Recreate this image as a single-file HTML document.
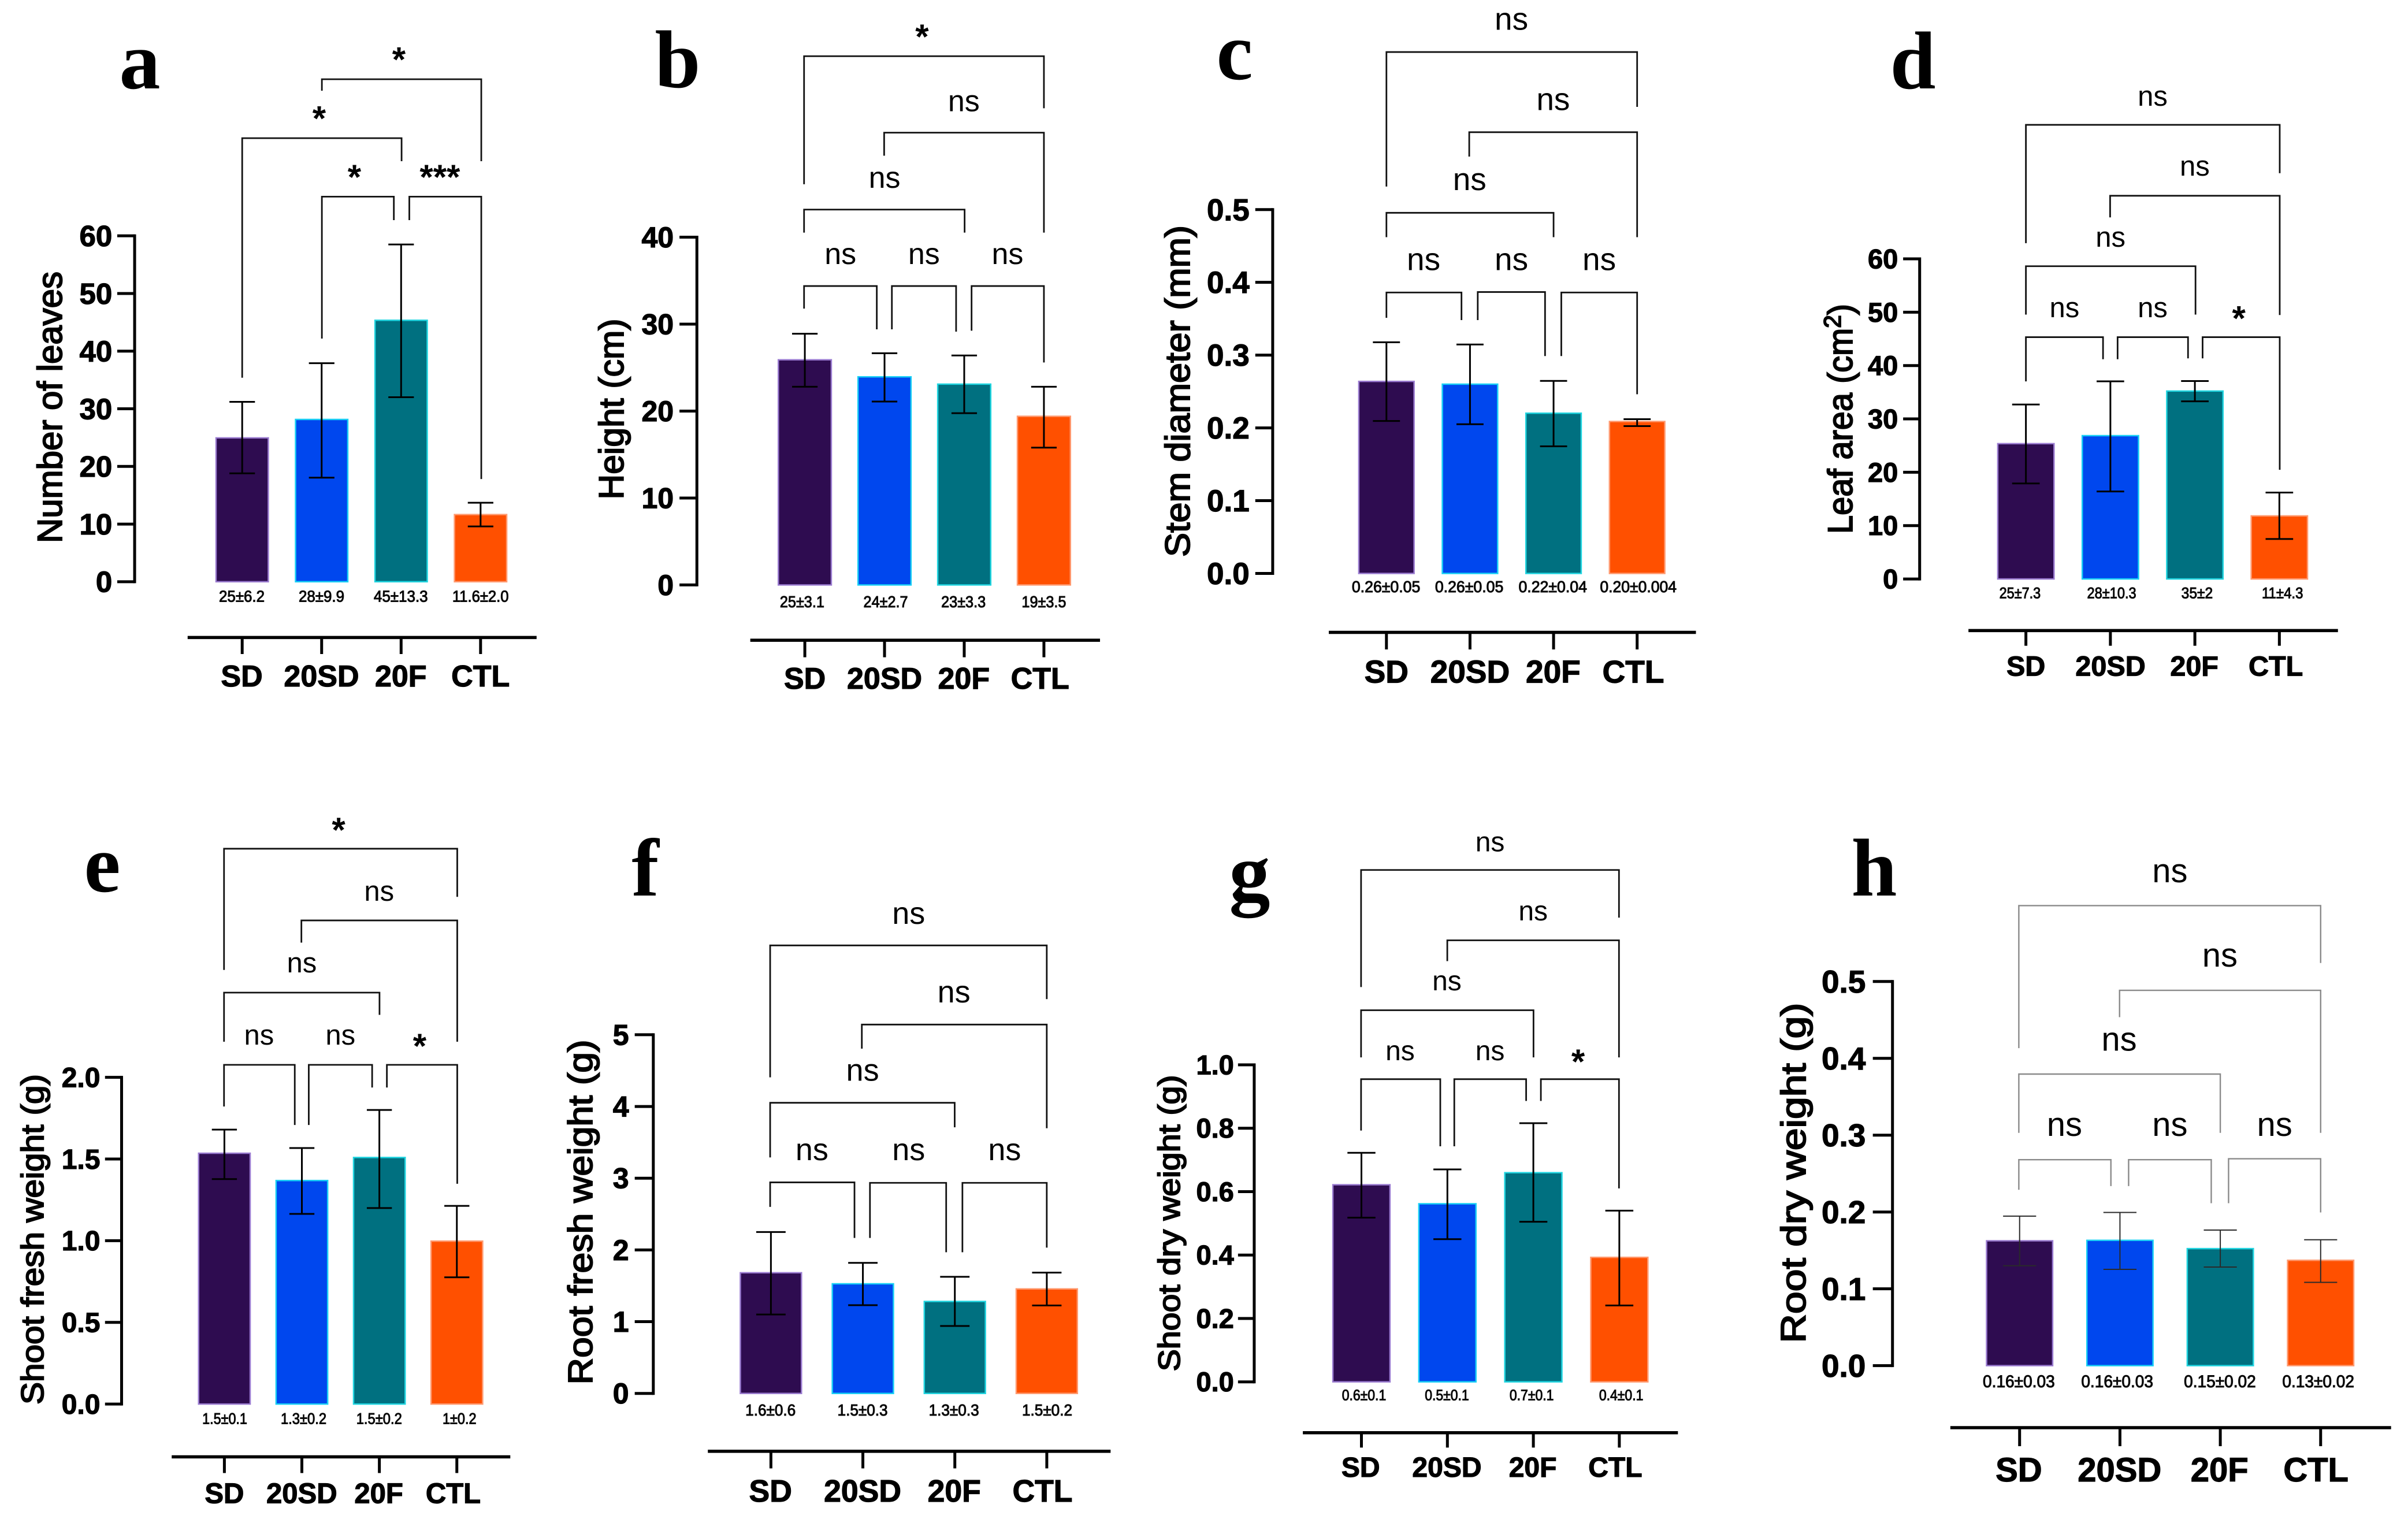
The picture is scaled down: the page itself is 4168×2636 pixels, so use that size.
<!DOCTYPE html>
<html lang="en">
<head>
<meta charset="utf-8">
<title>Plant growth measurements by treatment</title>
<style>
html,body{margin:0;padding:0;background:#fff;}
svg{display:block;}
text{font-family:"Liberation Sans",sans-serif;fill:#000;}
.letter{font-family:"Liberation Serif",serif;font-weight:700;font-size:142px;text-anchor:middle;}
.ytitle{font-size:60px;text-anchor:middle;stroke:#000;stroke-width:2px;}
</style>
</head>
<body>
<svg id="figure" xmlns="http://www.w3.org/2000/svg" width="4168" height="2636" viewBox="0 0 4168 2636">
  <rect x="0" y="0" width="4168" height="2636" fill="#ffffff"/>

  <g id="panel-a">
    <text class="letter" x="242" y="153">a</text>
    <text class="ytitle" transform="translate(107 705) rotate(-90)" textLength="470" lengthAdjust="spacingAndGlyphs">Number of leaves</text>
  </g>
  <g id="panel-b">
    <text class="letter" x="1173" y="151">b</text>
    <text class="ytitle" transform="translate(1079 708) rotate(-90)" textLength="313" lengthAdjust="spacingAndGlyphs">Height (cm)</text>
  </g>
  <g id="panel-c">
    <text class="letter" x="2137" y="137">c</text>
    <text class="ytitle" transform="translate(2059 677) rotate(-90)" textLength="574" lengthAdjust="spacingAndGlyphs">Stem diameter (mm)</text>
  </g>
  <g id="panel-d">
    <text class="letter" x="3311" y="153">d</text>
    <text class="ytitle" transform="translate(3206 725) rotate(-90)" textLength="398" lengthAdjust="spacingAndGlyphs">Leaf area  (cm<tspan font-size="42" dy="-20">2</tspan><tspan dy="20">)</tspan></text>
  </g>
  <g id="panel-e">
    <text class="letter" x="177" y="1543">e</text>
    <text class="ytitle" style="font-size:55px" transform="translate(75 2145) rotate(-90)" textLength="572" lengthAdjust="spacingAndGlyphs">Shoot fresh weight (g)</text>
  </g>
  <g id="panel-f">
    <text class="letter" x="1117" y="1550">f</text>
    <text class="ytitle" style="font-size:59px" transform="translate(1025 2098) rotate(-90)" textLength="597" lengthAdjust="spacingAndGlyphs">Root fresh weight (g)</text>
  </g>
  <g id="panel-g">
    <text class="letter" x="2163" y="1558">g</text>
    <text class="ytitle" style="font-size:53px" transform="translate(2042 2117) rotate(-90)" textLength="513" lengthAdjust="spacingAndGlyphs">Shoot dry weight (g)</text>
  </g>
  <g id="panel-h">
    <text class="letter" x="3244" y="1550">h</text>
    <text class="ytitle" transform="translate(3125 2030) rotate(-90)" textLength="589" lengthAdjust="spacingAndGlyphs">Root dry weight (g)</text>
  </g>
</svg>

<script>
/* ---------- shared categories ---------- */
const categories = ['SD', '20SD', '20F', 'CTL'];

/* ---------- chart data: bar height, error-bar low and high ---------- */
const leavesMean = [24.8, 28, 45.2, 11.5];
const leavesLow = [18.8, 18.05, 32, 9.6];
const leavesHigh = [31.2, 37.9, 58.5, 13.7];
const leavesTicks = ['0', '10', '20', '30', '40', '50', '60'];
const leavesPrinted = ['25±6.2', '28±9.9', '45±13.3', '11.6±2.0'];

const heightMean = [25.8, 23.84, 23, 19.3];
const heightLow = [22.8, 21.1, 19.76, 15.8];
const heightHigh = [28.9, 26.65, 26.4, 22.8];
const heightTicks = ['0', '10', '20', '30', '40'];
const heightPrinted = ['25±3.1', '24±2.7', '23±3.3', '19±3.5'];

const stemMean = [0.2627, 0.2589, 0.219, 0.2076];
const stemLow = [0.2095, 0.205, 0.1747, 0.2025];
const stemHigh = [0.3177, 0.3146, 0.2646, 0.212];
const stemTicks = ['0.0', '0.1', '0.2', '0.3', '0.4', '0.5'];
const stemPrinted = ['0.26±0.05', '0.26±0.05', '0.22±0.04', '0.20±0.004'];

const leafAreaMean = [25.2, 26.7, 35.06, 11.66];
const leafAreaLow = [17.9, 16.4, 33.3, 7.5];
const leafAreaHigh = [32.7, 37.05, 37.1, 16.2];
const leafAreaTicks = ['0', '10', '20', '30', '40', '50', '60'];
const leafAreaPrinted = ['25±7.3', '28±10.3', '35±2', '11±4.3'];

const shootFreshMean = [1.53, 1.363, 1.504, 0.992];
const shootFreshLow = [1.377, 1.164, 1.2, 0.776];
const shootFreshHigh = [1.68, 1.567, 1.8, 1.213];
const shootFreshTicks = ['0.0', '0.5', '1.0', '1.5', '2.0'];
const shootFreshPrinted = ['1.5±0.1', '1.3±0.2', '1.5±0.2', '1±0.2'];

const rootFreshMean = [1.67, 1.516, 1.27, 1.445];
const rootFreshLow = [1.1, 1.23, 0.94, 1.226];
const rootFreshHigh = [2.25, 1.82, 1.626, 1.684];
const rootFreshTicks = ['0', '1', '2', '3', '4', '5'];
const rootFreshPrinted = ['1.6±0.6', '1.5±0.3', '1.3±0.3', '1.5±0.2'];

const shootDryMean = [0.619, 0.559, 0.657, 0.39];
const shootDryLow = [0.518, 0.45, 0.505, 0.241];
const shootDryHigh = [0.7226, 0.67, 0.816, 0.54];
const shootDryTicks = ['0.0', '0.2', '0.4', '0.6', '0.8', '1.0'];
const shootDryPrinted = ['0.6±0.1', '0.5±0.1', '0.7±0.1', '0.4±0.1'];

const rootDryMean = [0.1614, 0.162, 0.1512, 0.136];
const rootDryLow = [0.13, 0.1253, 0.1283, 0.1084];
const rootDryHigh = [0.1946, 0.1994, 0.1765, 0.1639];
const rootDryTicks = ['0.0', '0.1', '0.2', '0.3', '0.4', '0.5'];
const rootDryPrinted = ['0.16±0.03', '0.16±0.03', '0.15±0.02', '0.13±0.02'];

/* ---------- styling shared by all bars ---------- */
const fills = ['#2e0c50', '#0047ee', '#007080', '#ff5000'];
const edges = ['#9a7bd0', '#19d0f5', '#20d5e0', '#ff9a70'];

/* ---------- panel layout (frame units mapped to page pixels by frame) ---------- */
const layouts = [
  {id:'panel-a', frame:[0,0,1050,1250], mean:leavesMean, low:leavesLow, high:leavesHigh, ticks:leavesTicks, printed:leavesPrinted,
   axisX:348, y0:1263, yTop:512, tickFrom:303, tickRight:290, tickFont:51,
   x0:626, step:205.4, barW:135, cap:33,
   baseY:1384, baseL:485, baseR:1387, baseTick:1420, catY:1490, catX:[625,831,1036,1242], catFont:52,
   valY:1294, valX:[625,831,1036,1242], valW:[118,118,140,146], valFont:28, nsFont:52,
   brackets:[[832,197,172,1244,350],[626,820,300,1038,350],[832,735,427,1018,478],[1058,478,427,1244,1040]],
   notes:[['*',1031,122],['*',825,250],['*',916,377],['***',1137,377]]},
  {id:'panel-b', frame:[1000,0,1050,1250], mean:heightMean, low:heightLow, high:heightHigh, ticks:heightTicks, printed:heightPrinted,
   axisX:308, y0:1270, yTop:515, tickFrom:263, tickRight:248, tickFont:50,
   x0:587, step:206, barW:137, cap:33,
   baseY:1390, baseL:446, baseR:1350, baseTick:1427, catY:1495, catX:[587,793,998,1195], catFont:52,
   valY:1306, valX:[580,796,997,1205], valW:[115,115,115,115], valFont:28, nsFont:52,
   brackets:[[585,400,122,1205,235],[792,338,288,1205,505],[585,505,455,1000,505],[585,670,621,773,715],[812,715,621,978,720],[1018,718,621,1205,787]],
   notes:[['*',890,72],['ns',998,222],['ns',793,388],['ns',679,554],['ns',895,554],['ns',1111,554]]},
  {id:'panel-c', frame:[2000,0,1050,1250], mean:stemMean, low:stemLow, high:stemHigh, ticks:stemTicks, printed:stemPrinted,
   axisX:303, y0:1245, yTop:455, tickFrom:258, tickRight:243, tickFont:53,
   x0:597, step:216, barW:143, cap:35,
   baseY:1373, baseL:448, baseR:1397, baseTick:1410, catY:1482, catX:[597,813,1028,1235], catFont:55,
   valY:1273, valX:[596,811,1027,1248], valW:[177,177,177,198], valFont:28, nsFont:55,
   brackets:[[597,405,113,1245,232],[811,340,287,1245,515],[597,515,462,1029,515],[597,690,635,791,695],[833,695,634,1007,773],[1049,773,635,1245,856]],
   notes:[['ns',920,44],['ns',1028,218],['ns',812,392],['ns',693,566],['ns',920,566],['ns',1147,566]]},
  {id:'panel-d', frame:[3100,0,1068,1250], mean:leafAreaMean, low:leafAreaLow, high:leafAreaHigh, ticks:leafAreaTicks, printed:leafAreaPrinted,
   axisX:327, y0:1257, yTop:562, tickFrom:285, tickRight:272, tickFont:47,
   x0:597, step:214.7, barW:143, cap:35,
   baseY:1369, baseL:451, baseR:1390, baseTick:1402, catY:1467, catX:[597,812,1025,1232], catFont:48.5,
   valY:1287, valX:[582,815,1032,1249], valW:[105,125,80,105], valFont:27, nsFont:49,
   brackets:[[597,528,271,1242,376],[811,472,425,1242,684],[597,683,578,1028,683],[597,828,732,793,780],[830,780,732,1009,778],[1046,778,732,1242,1020]],
   notes:[['ns',919,211],['ns',1026,363],['ns',812,517],['ns',695,670],['ns',919,670],['*',1138,684]]},
  {id:'panel-e', frame:[0,1380,1000,1256], mean:shootFreshMean, low:shootFreshLow, high:shootFreshHigh, ticks:shootFreshTicks, printed:shootFreshPrinted,
   axisX:330, y0:1311, yTop:605, tickFrom:285, tickRight:272, tickFont:48,
   x0:609, step:210.3, barW:140, cap:34,
   baseY:1425, baseL:466, baseR:1385, baseTick:1460, catY:1525, catX:[609,819,1028,1230], catFont:49,
   valY:1342, valX:[610,824,1029,1247], valW:[122,124,124,92], valFont:27, nsFont:49,
   brackets:[[608,373,111,1241,215],[818,314,266,1241,528],[608,528,422,1030,470],[608,668,578,800,708],[838,708,578,1010,627],[1050,627,578,1241,835]],
   notes:[['*',919,63],['ns',1029,205],['ns',819,360],['ns',703,516],['ns',924,516],['*',1139,530]]},
  {id:'panel-f', frame:[950,1380,1050,1256], mean:rootFreshMean, low:rootFreshLow, high:rootFreshHigh, ticks:rootFreshTicks, printed:rootFreshPrinted,
   axisX:270, y0:1288, yTop:513, tickFrom:222, tickRight:207, tickFont:50,
   x0:574, step:237.7, barW:158, cap:38,
   baseY:1413, baseL:411, baseR:1452, baseTick:1450, catY:1522, catX:[573,811,1048,1276], catFont:53.5,
   valY:1323, valX:[573,811,1047,1288], valW:[130,130,130,130], valFont:28, nsFont:54,
   brackets:[[572,605,320,1287,436],[809,543,491,1287,715],[572,778,660,1049,713],[572,885,832,790,952],[830,952,833,1027,983],[1069,983,833,1287,973]],
   notes:[['ns',930,253],['ns',1047,423],['ns',811,592],['ns',680,764],['ns',930,764],['ns',1178,764]]},
  {id:'panel-g', frame:[2000,1380,1000,1256], mean:shootDryMean, low:shootDryLow, high:shootDryHigh, ticks:shootDryTicks, printed:shootDryPrinted,
   axisX:268, y0:1263, yTop:578, tickFrom:224, tickRight:213, tickFont:47,
   x0:559, step:233.3, barW:155, cap:38,
   baseY:1373, baseL:400, baseR:1418, baseTick:1405, catY:1468, catX:[557,791,1024,1248], catFont:48,
   valY:1291, valX:[566,791,1021,1264], valW:[120,120,120,120], valFont:26, nsFont:48,
   brackets:[[558,410,157,1258,260],[792,354,309,1258,562],[558,562,460,1026,562],[558,720,609,773,754],[811,754,609,1006,656],[1046,656,609,1258,845]],
   notes:[['ns',908,99],['ns',1025,248],['ns',791,399],['ns',664,550],['ns',908,550],['*',1147,564]]},
  {id:'panel-h', frame:[3100,1380,1068,1256], mean:rootDryMean, low:rootDryLow, high:rootDryHigh, ticks:rootDryTicks, printed:rootDryPrinted,
   axisX:258, y0:1228, yTop:398, tickFrom:208, tickRight:190, tickFont:55,
   x0:581, step:255, barW:168, cap:42,
   baseY:1362, baseL:405, baseR:1525, baseTick:1402, catY:1478, catX:[579,835,1089,1334], catFont:58,
   valY:1261, valX:[579,829,1090,1340], valW:[183,183,183,183], valFont:30, nsFont:58,
   bracketColor:'#8a8a8a', bracketWidth:2.4, errorColor:'#2a2a2a', errorWidth:2,
   brackets:[[579,542,234,1346,358],[835,475,417,1346,725],[579,725,598,1091,725],[579,848,783,813,840],[858,840,783,1068,877],[1112,877,781,1346,897]],
   notes:[['ns',963,162],['ns',1090,344],['ns',834,526],['ns',695,710],['ns',963,710],['ns',1229,710]]}
];

const SVG_NS = 'http://www.w3.org/2000/svg';
function mk(parent, tag, attrs) {
  const el = document.createElementNS(SVG_NS, tag);
  for (const k in attrs) { el.setAttribute(k, attrs[k]); }
  parent.appendChild(el);
  return el;
}

function drawPanel(p) {
  const g = document.getElementById(p.id);
  const [fx, fy, fw, fh] = p.frame;
  const px = u => fx + u * fw / 1568;
  const py = u => fy + u * fh / 1568;
  const maxValue = parseFloat(p.ticks[p.ticks.length - 1]);
  const yScale = v => py(p.y0 - (v / maxValue) * (p.y0 - p.yTop));
  const xScale = i => px(p.x0 + i * p.step);
  const halfBar = p.barW * fw / 1568 / 2;
  const halfCap = p.cap * fw / 1568;
  const bracketColor = p.bracketColor || '#111111';
  const bracketWidth = p.bracketWidth || 2.8;
  const errorColor = p.errorColor || '#000000';
  const errorWidth = p.errorWidth || 3;

  /* bars */
  categories.forEach((c, i) => {
    const top = yScale(p.mean[i]);
    const r = mk(g, 'rect', {
      x: xScale(i) - halfBar, y: top - 1.5,
      width: halfBar * 2, height: Math.max(0, yScale(0) - top + 1.5),
      fill: fills[i], stroke: edges[i], 'stroke-width': 2.5
    });
    
    
  });

  /* error bars */
  categories.forEach((c, i) => {
    const cx = xScale(i);
    const hi = yScale(p.high[i]);
    const lo = yScale(p.low[i]);
    const e = mk(g, 'path', {
      d: `M${cx - halfCap} ${hi}H${cx + halfCap}M${cx} ${hi}V${lo}M${cx - halfCap} ${lo}H${cx + halfCap}`,
      fill: 'none', stroke: errorColor, 'stroke-width': errorWidth
    });
    
    
  });

  /* y axis */
  const yAxis = mk(g, 'line', {
    x1: px(p.axisX), x2: px(p.axisX), y1: yScale(maxValue) - 2.5, y2: yScale(0) + 2.5,
    stroke: '#000', 'stroke-width': 5
  });
  
  

  p.ticks.forEach(label => {
    const v = parseFloat(label);
    const tk = mk(g, 'line', {
      x1: px(p.tickFrom), x2: px(p.axisX), y1: yScale(v), y2: yScale(v),
      stroke: '#000', 'stroke-width': 5
    });
    
    

    const t = mk(g, 'text', {
      x: px(p.tickRight), y: yScale(v) + p.tickFont * 0.35,
      'text-anchor': 'end', 'font-weight': 700, 'font-size': p.tickFont,
      stroke: '#000', 'stroke-width': 1.2
    });
    t.textContent = label;
    
    
  });

  /* x axis */
  const xAxis = mk(g, 'line', {
    x1: px(p.baseL), x2: px(p.baseR), y1: py(p.baseY), y2: py(p.baseY),
    stroke: '#000', 'stroke-width': 5.5
  });
  
  

  categories.forEach((c, i) => {
    const tk = mk(g, 'line', {
      x1: xScale(i), x2: xScale(i), y1: py(p.baseY), y2: py(p.baseTick),
      stroke: '#000', 'stroke-width': 5
    });
    
    

    const t = mk(g, 'text', {
      x: px(p.catX[i]), y: py(p.catY),
      'text-anchor': 'middle', 'font-weight': 700, 'font-size': p.catFont,
      stroke: '#000', 'stroke-width': 1.2
    });
    t.textContent = c;
    
    

    const v = mk(g, 'text', {
      x: px(p.valX[i]), y: py(p.valY) + p.valFont * 0.36,
      'text-anchor': 'middle', 'font-size': p.valFont,
      stroke: '#111', 'stroke-width': 1.1,
      textLength: p.valW[i] * fw / 1568, lengthAdjust: 'spacingAndGlyphs'
    });
    v.textContent = p.printed[i];
    
    
  });

  /* significance brackets: [left x, left foot, top, right x, right foot] */
  p.brackets.forEach(b => {
    const s = mk(g, 'path', {
      d: `M${px(b[0])} ${py(b[1])}V${py(b[2])}H${px(b[3])}V${py(b[4])}`,
      fill: 'none', stroke: bracketColor, 'stroke-width': bracketWidth
    });
    
    
  });

  /* significance labels */
  p.notes.forEach(n => {
    const isStar = n[0].charAt(0) === '*';
    const size = isStar ? 60 : p.nsFont;
    const t = mk(g, 'text', {
      x: px(n[1]), y: py(n[2]) + (isStar ? size * 0.44 : size * 0.3),
      'text-anchor': 'middle', 'font-size': size, 'font-weight': isStar ? 700 : 400
    });
    t.textContent = n[0];
    
    
  });
}

layouts.forEach(drawPanel);
</script>
</body>
</html>
